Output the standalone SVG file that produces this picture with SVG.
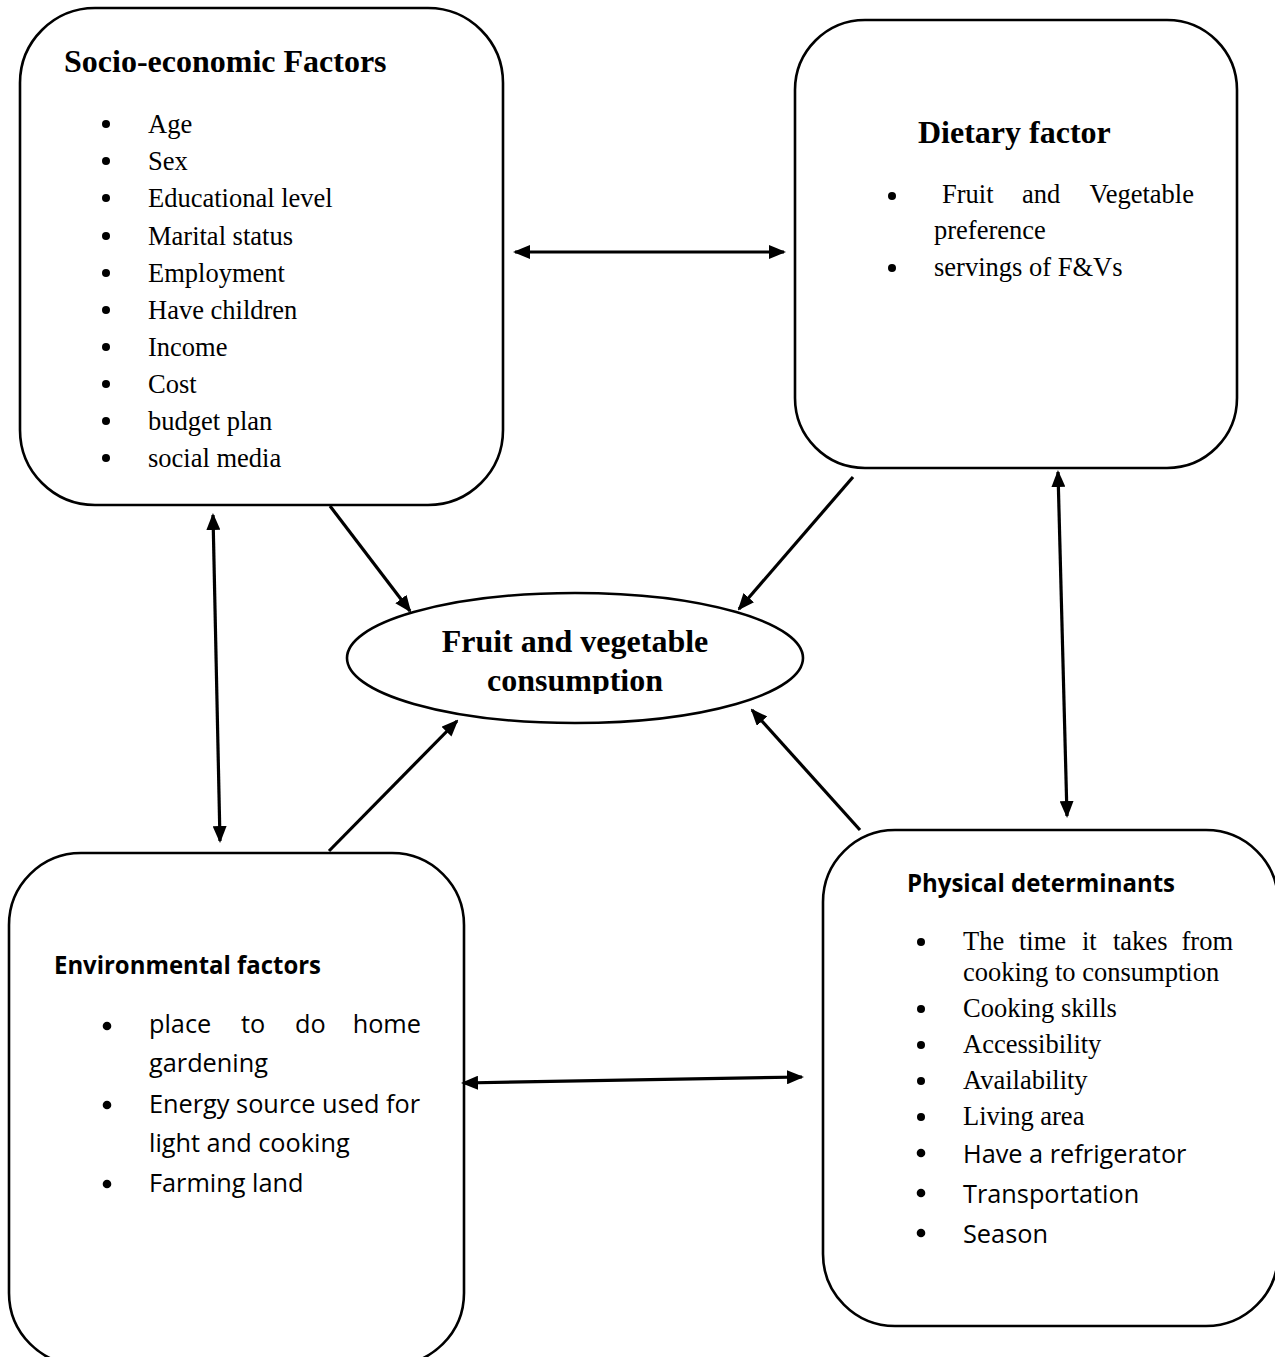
<svg xmlns="http://www.w3.org/2000/svg" width="1275" height="1357" viewBox="0 0 1275 1357">
<style>
.box{fill:#fff;stroke:#000;stroke-width:2.6}
.ser{font-family:"Liberation Serif","Times New Roman",serif;font-size:26.5px;fill:#000}
.serb{font-family:"Liberation Serif","Times New Roman",serif;font-size:32px;font-weight:bold;fill:#000}
.sans{font-family:"Open Sans","DejaVu Sans",sans-serif;font-size:25.3px;fill:#000}
.sansb{font-family:"Open Sans","DejaVu Sans",sans-serif;font-size:25px;font-weight:bold;fill:#000}
.bul{fill:#000}
.con line{stroke:#000;stroke-width:3.2;fill:none}
</style>
<defs>
<marker id="ah" viewBox="0 0 17 14" refX="15" refY="7" markerWidth="17" markerHeight="14" markerUnits="userSpaceOnUse" orient="auto-start-reverse">
<path d="M0,0 L17,7 L0,14 z" fill="#000"/>
</marker>
<clipPath id="clipC"><rect x="0" y="0" width="1275" height="694"/></clipPath>
</defs>
<rect width="1275" height="1357" fill="#fff"/>

<g id="socio">
<rect class="box" x="20" y="8" width="483" height="497" rx="75" ry="75"/>
<text class="serb" x="64" y="72">Socio-economic Factors</text>
<g class="bul">
<circle cx="106" cy="124" r="4"/><circle cx="106" cy="161" r="4"/><circle cx="106" cy="198" r="4"/><circle cx="106" cy="236" r="4"/><circle cx="106" cy="273" r="4"/><circle cx="106" cy="310" r="4"/><circle cx="106" cy="347" r="4"/><circle cx="106" cy="384" r="4"/><circle cx="106" cy="421" r="4"/><circle cx="106" cy="458" r="4"/>
</g>
<text class="ser" x="148" y="133">Age</text>
<text class="ser" x="148" y="170">Sex</text>
<text class="ser" x="148" y="207">Educational level</text>
<text class="ser" x="148" y="245">Marital status</text>
<text class="ser" x="148" y="282">Employment</text>
<text class="ser" x="148" y="319">Have children</text>
<text class="ser" x="148" y="356">Income</text>
<text class="ser" x="148" y="393">Cost</text>
<text class="ser" x="148" y="430">budget plan</text>
<text class="ser" x="148" y="467">social media</text>
</g>

<g id="dietary">
<rect class="box" x="795" y="20" width="442" height="448" rx="70" ry="70"/>
<text class="serb" x="918" y="143">Dietary factor</text>
<circle class="bul" cx="892" cy="196" r="4"/>
<circle class="bul" cx="892" cy="268" r="4"/>
<text class="ser" x="942" y="203">Fruit</text>
<text class="ser" x="1022" y="203">and</text>
<text class="ser" x="1194" y="203" text-anchor="end">Vegetable</text>
<text class="ser" x="934" y="239">preference</text>
<text class="ser" x="934" y="276">servings of F&amp;Vs</text>
</g>

<g id="center">
<ellipse cx="575" cy="658" rx="228" ry="65" fill="#fff" stroke="#000" stroke-width="2.6"/>
<g clip-path="url(#clipC)">
<text class="serb" x="575" y="652" text-anchor="middle">Fruit and vegetable</text>
<text class="serb" x="575" y="691" text-anchor="middle">consumption</text>
</g>
</g>

<g id="environmental">
<rect class="box" x="9" y="853" width="455" height="512" rx="72" ry="72"/>
<text class="sansb" x="54" y="974" textLength="267" lengthAdjust="spacingAndGlyphs">Environmental factors</text>
<circle class="bul" cx="107" cy="1026" r="4.3"/>
<circle class="bul" cx="107" cy="1105" r="4.3"/>
<circle class="bul" cx="107" cy="1184" r="4.3"/>
<text class="sans" x="149" y="1033">place</text>
<text class="sans" x="241" y="1033">to</text>
<text class="sans" x="295" y="1033">do</text>
<text class="sans" x="421" y="1033" text-anchor="end">home</text>
<text class="sans" x="149" y="1072">gardening</text>
<text class="sans" x="149" y="1113">Energy source used for</text>
<text class="sans" x="149" y="1152">light and cooking</text>
<text class="sans" x="149" y="1192">Farming land</text>
</g>

<g id="physical">
<rect class="box" x="823" y="830" width="455" height="496" rx="72" ry="72"/>
<text class="sansb" x="907" y="892" textLength="268" lengthAdjust="spacingAndGlyphs">Physical determinants</text>
<g class="bul">
<circle cx="921" cy="942" r="4"/><circle cx="921" cy="1009" r="4"/><circle cx="921" cy="1045" r="4"/><circle cx="921" cy="1081" r="4"/><circle cx="921" cy="1117" r="4"/><circle cx="921" cy="1153" r="4.3"/><circle cx="921" cy="1193" r="4.3"/><circle cx="921" cy="1233" r="4.3"/>
</g>
<text class="ser" x="963" y="950">The</text>
<text class="ser" x="1019" y="950">time</text>
<text class="ser" x="1082" y="950">it</text>
<text class="ser" x="1113" y="950">takes</text>
<text class="ser" x="1233" y="950" text-anchor="end">from</text>
<text class="ser" x="963" y="981">cooking to consumption</text>
<text class="ser" x="963" y="1017">Cooking skills</text>
<text class="ser" x="963" y="1053">Accessibility</text>
<text class="ser" x="963" y="1089">Availability</text>
<text class="ser" x="963" y="1125">Living area</text>
<text class="sans" x="963" y="1163">Have a refrigerator</text>
<text class="sans" x="963" y="1203">Transportation</text>
<text class="sans" x="963" y="1243">Season</text>
</g>

<g id="connectors" class="con">
<line x1="515" y1="252" x2="784" y2="252" marker-start="url(#ah)" marker-end="url(#ah)"/>
<line x1="213" y1="515" x2="220" y2="841" marker-start="url(#ah)" marker-end="url(#ah)"/>
<line x1="1058" y1="472" x2="1067" y2="816" marker-start="url(#ah)" marker-end="url(#ah)"/>
<line x1="463" y1="1083" x2="802" y2="1077" marker-start="url(#ah)" marker-end="url(#ah)"/>
<line x1="330" y1="506" x2="410" y2="611" marker-end="url(#ah)"/>
<line x1="853" y1="477" x2="739" y2="609" marker-end="url(#ah)"/>
<line x1="329" y1="851" x2="457" y2="721" marker-end="url(#ah)"/>
<line x1="860" y1="830" x2="752" y2="710" marker-end="url(#ah)"/>
</g>
</svg>
